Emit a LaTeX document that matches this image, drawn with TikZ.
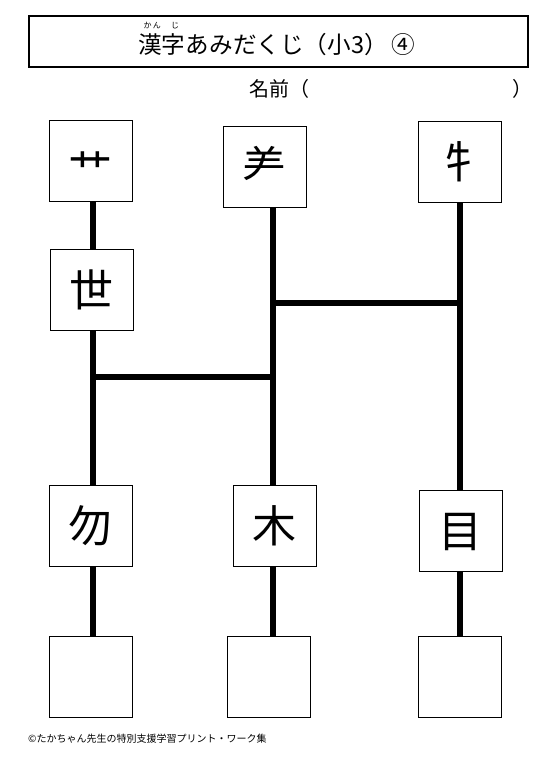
\documentclass[tikz,border=0pt]{standalone}
\usepackage{fontspec}
\setmainfont{Noto Sans CJK JP}
\usetikzlibrary{calc, positioning, backgrounds}

\begin{document}
\begin{tikzpicture}[
        x=1pt, y=-1pt,
        frame/.style={draw=black, line width=1.2pt},
        ttl/.style={font=\fontsize{23.6}{23.6}\selectfont, inner sep=0pt},
        ruby/.style={font=\fontsize{8}{8}\selectfont, inner sep=0pt},
        namefield/.style={font=\fontsize{20}{20}\selectfont, inner sep=0pt},
        part/.style={
            draw=black,
            line width=1pt,
            fill=white,
            minimum width=83pt,
            minimum height=81pt,
            inner sep=0pt,
            text height=38.7pt,
            text depth=5.3pt,
            font=\fontsize{44}{44}\selectfont
        },
        rail/.style={line width=6pt}
    ]
    \useasboundingbox (0,0) rectangle (549,778);

    \node[frame, minimum width=499pt, minimum height=51pt] (header) at (278.5,41.5) {};
    \node[ttl, anchor=base west] (kanji) at (138,53.5) {漢字};
    \node[ttl, anchor=base west] (rest) at (kanji.base east) {あみだくじ（小3）\,④};
    \node[ruby, anchor=base] (kan) at ($(kanji.base west)!0.3!(kanji.base east)+(0,-25)$) {か\,ん};
    \node[ruby, anchor=base] (ji) at ($(kanji.base west)!0.78!(kanji.base east)+(0,-25)$) {じ};

    \node[namefield, anchor=base west] (name) at (249,97) {名前（};
    \node[namefield, anchor=base west] (nameend) at (512,97) {）};

    \node[part] (grass) at (90.8,160.6) {\raisebox{-9pt}{艹}};
    \node[part] (sheep) at (264.8,166.8) {⺶};
    \node[part] (cow) at (459.8,161.8) {牜};
    \node[part] (world) at (91.8,289.8) {世};
    \node[part] (notthing) at (90.8,525.8) {勿};
    \node[part] (tree) at (274.8,525.8) {木};
    \node[part] (eye) at (460.8,530.8) {目};
    \node[part] (ans1) at (90.8,677.3) {};
    \node[part] (ans2) at (268.8,677.3) {};
    \node[part] (ans3) at (459.8,677.3) {};

    \coordinate (railA) at (93,0);
    \coordinate (railB) at (273,0);
    \coordinate (railC) at (460,0);
    \coordinate (rung1) at (0,302.5);
    \coordinate (rung2) at (0,376.7);

    \begin{scope}[on background layer]
        \draw[rail] (grass.south -| railA) -- (ans1.north -| railA);
        \draw[rail] (sheep.south -| railB) -- (ans2.north -| railB);
        \draw[rail] (cow.south -| railC) -- (ans3.north -| railC);
        \draw[rail] (rung1 -| railB) -- (rung1 -| railC);
        \draw[rail] (rung2 -| railA) -- (rung2 -| railB);
    \end{scope}

    \node[font=\fontsize{10}{10}\selectfont, inner sep=0pt, anchor=base west] (credit) at (28,742)
        {©たかちゃん先生の特別支援学習プリント・ワーク集};

\end{tikzpicture}
\end{document}
